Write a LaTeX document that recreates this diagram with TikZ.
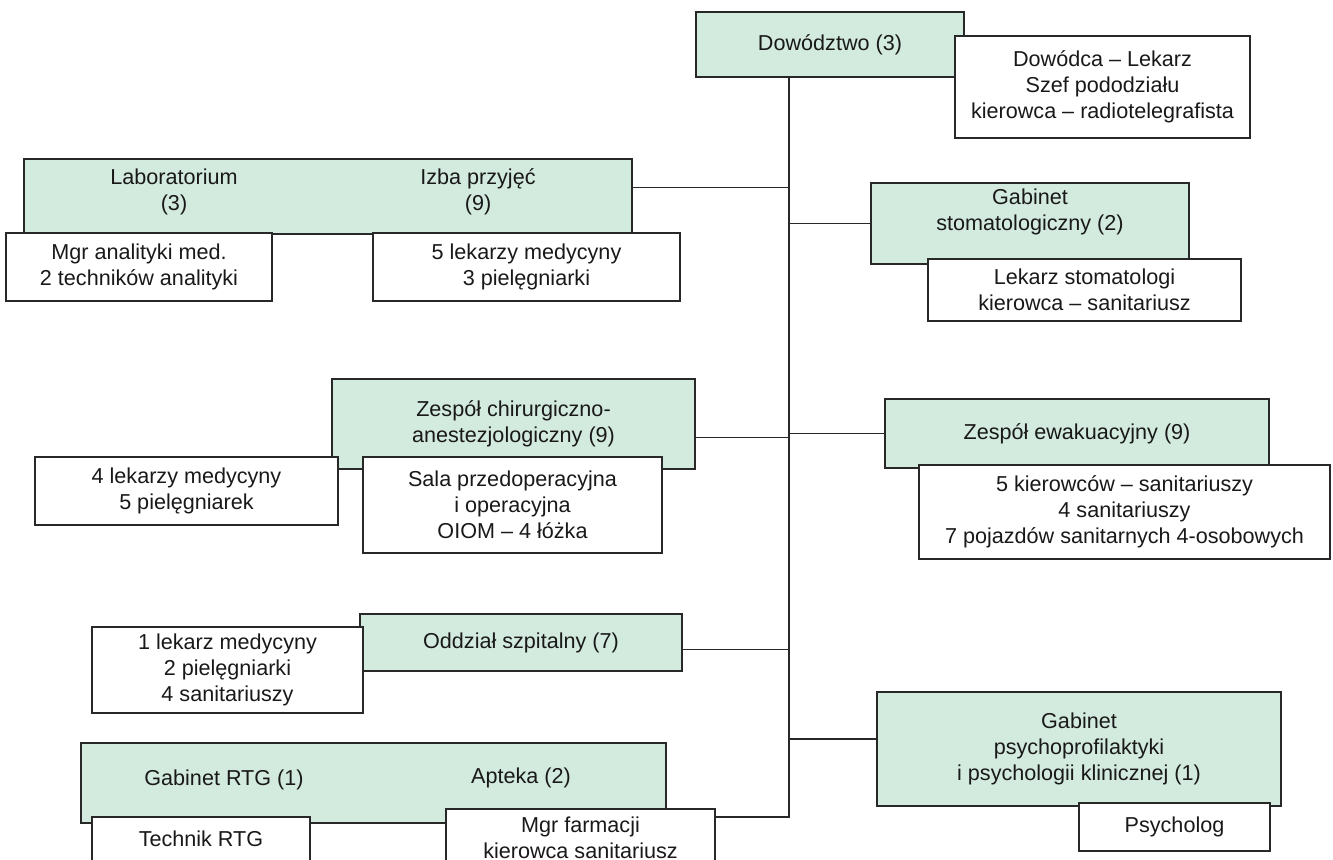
\documentclass[tikz,border=0pt]{standalone}
\usepackage{fontspec}
\setmainfont{Liberation Sans}
\usepackage{tikz}
\usetikzlibrary{positioning}
\definecolor{mieta}{RGB}{211,234,223}
\definecolor{ramka}{RGB}{40,40,40}

\begin{document}
\begin{tikzpicture}[
  x=0.75pt,y=-0.75pt,
  every node/.style={font=\fontsize{16.2}{19.5}\selectfont,text=black!90,inner sep=0pt,align=center},
  wym/.style 2 args={minimum width=#1*0.75pt,minimum height=#2*0.75pt},
  grupa/.style={draw=ramka,fill=mieta,line width=0.95pt},
  sklad/.style={draw=ramka,fill=white,line width=0.95pt},
  lin/.style={draw=ramka,line width=0.95pt}
]
\fill[white] (0,0) rectangle (1333,859);
\useasboundingbox (0,0) rectangle (1333,859);

\node[grupa,wym={268}{65}] (dow) at (830,44.5) {Dowództwo (3)};
\node[sklad,wym={295}{102}] (dowSklad) at (1102.5,87) {Dowódca – Lekarz\\Szef pododziału\\kierowca – radiotelegrafista};

\node[grupa,wym={608}{75}] (labGrupa) at (328,196.5) {};
\node (lab)  at (174,192) {Laboratorium\\(3)};
\node (izba) at (478,192) {Izba przyjęć\\(9)};
\node[sklad,wym={266}{68}] (labSklad)  at (139,267)   {Mgr analityki med.\\2 techników analityki};
\node[sklad,wym={307}{68}] (izbaSklad) at (526.5,267) {5 lekarzy medycyny\\3 pielęgniarki};

\node[grupa,wym={318}{81}] (stom) at (1030,223.5) {};
\node (stomNazwa) at (1030,212) {Gabinet\\stomatologiczny (2)};
\node[sklad,wym={313}{62}] (stomSklad) at (1084.5,290) {Lekarz stomatologi\\kierowca – sanitariusz};

\node[grupa,wym={363}{90}] (chir) at (513.5,424) {Zespół chirurgiczno-\\anestezjologiczny (9)};
\node[sklad,wym={303}{68}] (chirLek)  at (186.5,491) {4 lekarzy medycyny\\5 pielęgniarek};
\node[sklad,wym={299}{96}] (chirSala) at (512.5,505) {Sala przedoperacyjna\\i operacyjna\\OIOM – 4 łóżka};

\node[grupa,wym={384}{69}] (ewak) at (1077,433.5) {Zespół ewakuacyjny (9)};
\node[sklad,wym={411}{94}] (ewakSklad) at (1124.5,512) {5 kierowców – sanitariuszy\\4 sanitariuszy\\7 pojazdów sanitarnych 4-osobowych};

\node[grupa,wym={322}{57}] (oddz) at (521,642.5) {Oddział szpitalny (7)};
\node[sklad,wym={271}{86}] (oddzSklad) at (227.5,670) {1 lekarz medycyny\\2 pielęgniarki\\4 sanitariuszy};

\node[grupa,wym={585}{80}] (rtgGrupa) at (373.5,783) {};
\node (rtg) at (224,780) {Gabinet RTG (1)};
\node (apt) at (521,778) {Apteka (2)};
\node[sklad,wym={218}{69}] (rtgSklad) at (201,851.5)   {Technik RTG\\\mbox{}};
\node[sklad,wym={269}{57}] (aptSklad) at (580.5,837.5) {Mgr farmacji\\kierowca sanitariusz};

\node[grupa,wym={404}{114}] (psych) at (1079,749) {Gabinet\\psychoprofilaktyki\\i psychologii klinicznej (1)};
\node[sklad,wym={191}{48}] (psychSklad) at (1174.5,827) {Psycholog};

\coordinate (trzon) at (789,817);
\draw[lin] (dow.south -| trzon) -- (trzon) -- (trzon -| aptSklad.east);
\draw[lin] ([yshift=7pt]labGrupa.east) -- ([yshift=7pt]labGrupa.east -| trzon);
\draw[lin] (stom.west) -- (stom.west -| trzon);
\draw[lin] ([yshift=-10pt]chir.east) -- ([yshift=-10pt]chir.east -| trzon);
\draw[lin] (ewak.west) -- (ewak.west -| trzon);
\draw[lin] ([yshift=-5pt]oddz.east) -- ([yshift=-5pt]oddz.east -| trzon);
\draw[lin] ([yshift=7.5pt]psych.west) -- ([yshift=7.5pt]psych.west -| trzon);
\end{tikzpicture}
\end{document}
